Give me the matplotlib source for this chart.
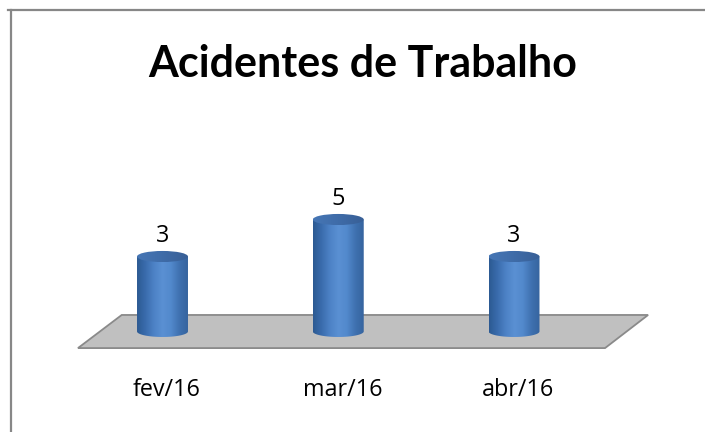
import numpy as np
import matplotlib
matplotlib.use('Agg')
import matplotlib.pyplot as plt
from matplotlib.path import Path
from matplotlib.patches import Polygon, Ellipse, PathPatch
from matplotlib.colors import LinearSegmentedColormap
from matplotlib.lines import Line2D

# Monthly work accidents
meses = ['fev/16', 'mar/16', 'abr/16']
acidentes = [3, 5, 3]

fig = plt.figure(figsize=(7.05, 4.32), dpi=100)
fig.patch.set_facecolor('white')
ax = fig.add_axes([0, 0, 1, 1])
ax.set_xlim(-0.9246, 3.0868)
ax.set_ylim(-6.486, 16.865)
ax.axis('off')

# Chart border (only top and left edges visible)
fig.add_artist(Line2D([8 / 705, 1], [0.9757, 0.9757], color='#878787', lw=1.6))
fig.add_artist(Line2D([0.0149, 0.0149], [0, 0.9757], color='#878787', lw=1.6))

# Grey floor in perspective
floor = Polygon([(-0.232, -0.16), (2.763, -0.16), (2.518, -1.95), (-0.481, -1.95)],
                closed=True, facecolor='#c0c0c0', edgecolor='#8a8a8a', lw=1.3, zorder=1)
ax.add_patch(floor)

body_cmap = LinearSegmentedColormap.from_list(
    'body', ['#2c5a92', '#3a6cad', '#4d82c6', '#5a90d3', '#5289cc', '#3f71b0', '#36649f'])
top_cmap = LinearSegmentedColormap.from_list('top', ['#4676b5', '#3f6ca8', '#385f96'])

half_w = 0.145     # cylinder radius in x units
ell_h = 0.30       # half height of the ellipses in y units
base = -1.05       # cylinder base sits in the middle of the floor depth

for i, (mes, val) in enumerate(zip(meses, acidentes)):
    x0, x1 = i - half_w, i + half_w
    # side of the cylinder: rectangle closed by the lower half ellipse
    t = np.linspace(np.pi, 2 * np.pi, 40)
    arc = np.column_stack([i + half_w * np.cos(t), base + ell_h * np.sin(t)])
    verts = np.vstack([[x0, val], [x0, base], arc, [x1, base], [x1, val], [x0, val]])
    codes = [Path.MOVETO] + [Path.LINETO] * (len(verts) - 2) + [Path.CLOSEPOLY]
    clip = PathPatch(Path(verts, codes), facecolor='none', edgecolor='none')
    ax.add_patch(clip)
    grad = np.linspace(0, 1, 256).reshape(1, -1)
    img = ax.imshow(grad, cmap=body_cmap, aspect='auto', zorder=2,
                    extent=[x0, x1, base - ell_h, val], interpolation='bilinear')
    img.set_clip_path(clip)

    # top cap
    cap_clip = Ellipse((i, val), 2 * half_w, 2 * ell_h, facecolor='none', edgecolor='none')
    ax.add_patch(cap_clip)
    cap = ax.imshow(grad, cmap=top_cmap, aspect='auto', zorder=3,
                    extent=[x0, x1, val - ell_h, val + ell_h], interpolation='bilinear')
    cap.set_clip_path(cap_clip)

    # value label and category label
    ax.text(i, val + 1.1, str(val), ha='center', va='center',
            fontsize=16.8, family='Open Sans', color='#000000', zorder=4)
    ax.text(i + 0.023, -4.22, mes, ha='center', va='center',
            fontsize=16.8, family='Open Sans', color='#000000')

fig.text(362.5 / 705, 1 - 77 / 432, 'Acidentes de Trabalho', ha='center', va='baseline',
         fontsize=31, fontweight='bold', family='Lato', color='#000000')

fig.savefig('out.png', dpi=100, facecolor='white')
